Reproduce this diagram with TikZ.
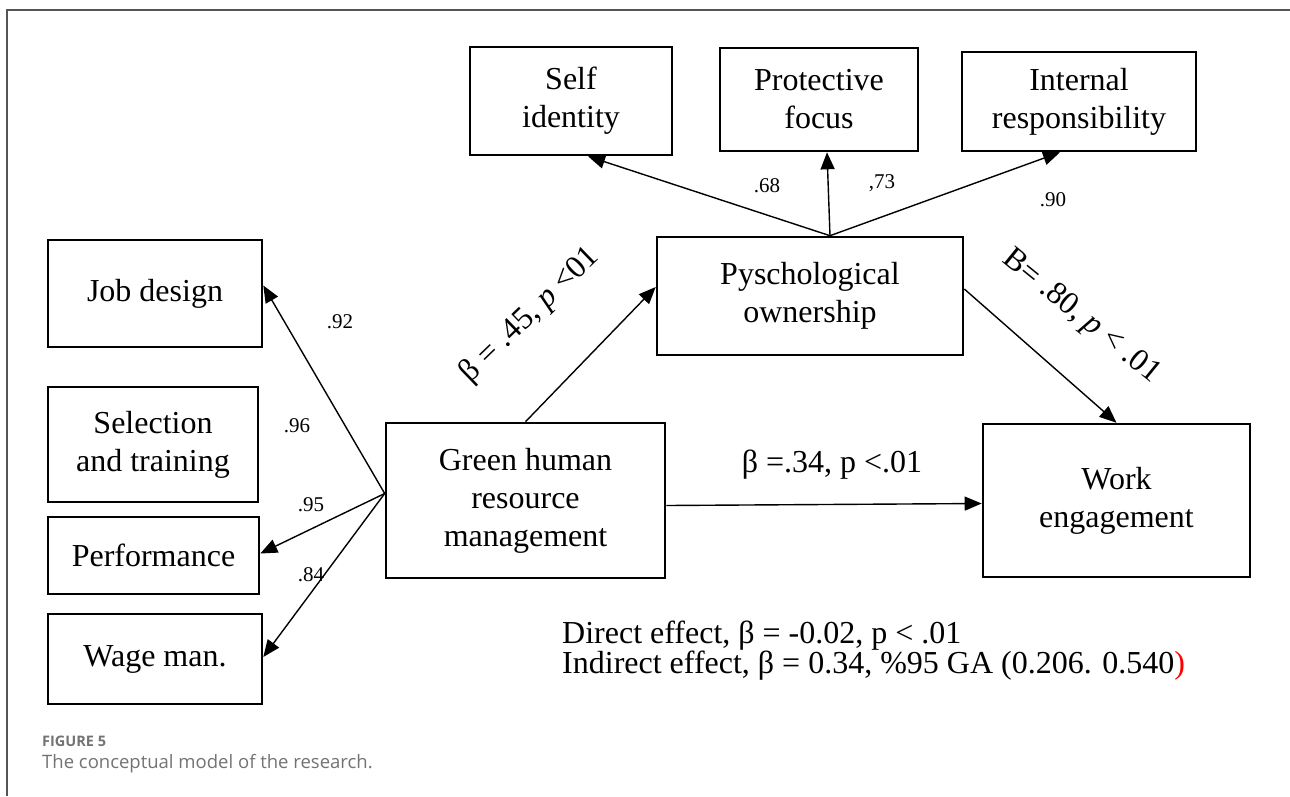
\documentclass[tikz,border=0pt]{standalone}
\usepackage{fontspec}
\setmainfont{Liberation Serif}
\newfontfamily\capfont{Open Sans}
\usetikzlibrary{arrows.meta, positioning}
\definecolor{framegray}{RGB}{85,85,85}
\definecolor{capgray}{RGB}{115,115,115}

\begin{document}
\begin{tikzpicture}[x=1pt, y=-1pt,
  varbox/.style={rectangle, draw=black, line width=2.6pt, fill=white,
                 align=center, inner sep=0pt, font=\fontsize{32}{38}\selectfont},
  coef/.style={font=\fontsize{21}{24}\selectfont, inner sep=1pt},
  pathlbl/.style={font=\fontsize{32}{38}\selectfont, inner sep=1pt},
  arr/.style={-{Triangle[length=17pt, width=14pt]}, line width=1.4pt, black}
]
\useasboundingbox (0,0) rectangle (1290,796);

% outer frame
\draw[framegray, line width=1.5pt] (7,796) -- (7,10) -- (1290,10);

% mediator and its dimensions
\node[varbox, minimum width=306pt, minimum height=118pt] (po)  at (810,296)    {Pyschological\\ownership};
\node[varbox, minimum width=202pt, minimum height=108pt] (si)  at (571,101)    {Self\\identity};
\node[varbox, minimum width=198pt, minimum height=103pt] (pfc) at (819,99.5)   {Protective\\focus};
\node[varbox, minimum width=234pt, minimum height=99pt]  (ir)  at (1079,101.5) {Internal\\responsibility};

% predictor and its dimensions
\node[varbox, minimum width=279pt, minimum height=155pt] (gh) at (525.5,500.5) {Green human\\resource\\management};
\node[varbox, minimum width=214pt, minimum height=107pt] (jd) at (155,293.5)   {Job design};
\node[varbox, minimum width=210pt, minimum height=115pt] (st) at (153,444.5)   {Selection\\and training};
\node[varbox, minimum width=211pt, minimum height=77pt]  (pf) at (153.5,555.5) {Performance};
\node[varbox, minimum width=214pt, minimum height=90pt]  (wm) at (155,659)     {Wage man.};

% outcome
\node[varbox, minimum width=267pt, minimum height=153pt] (we) at (1116.5,500.5) {Work\\engagement};

% start points
\coordinate (potop) at ([xshift=20pt]po.north);
\coordinate (ghleft) at ([yshift=7pt]gh.west);

% loadings of the mediator
\draw[arr] (potop) -- ([xshift=17pt]si.south);
\draw[arr] (potop) -- ([xshift=8pt]pfc.south);
\draw[arr] (potop) -- ([xshift=-19pt]ir.south);
\node[coef] (l68) at (767,186)  {.68};
\node[coef] (l73) at (882,183)  {,73};
\node[coef] (l90) at (1053,200) {.90};

% loadings of the predictor
\draw[arr] (ghleft) -- ([yshift=8pt]jd.east);
\draw[arr] (ghleft) -- ([yshift=2pt]pf.east);
\draw[arr] (ghleft) -- ([yshift=2pt]wm.east);
\node[coef] (l92) at (340,322) {.92};
\node[coef] (l96) at (297,426) {.96};
\node[coef] (l95) at (311,505) {.95};
\node[coef] (l84) at (311,575) {.84};

% structural paths
\draw[arr] (gh.north) -- ([yshift=9pt]po.west);
\draw[arr] ([yshift=7pt]po.east) -- (we.north);
\draw[arr] ([yshift=-5pt]gh.east) -- ([yshift=-3pt]we.west);
\node[pathlbl, rotate=44]  (pa) at (530,315)  {β = .45, \textit{p} <01};
\node[pathlbl, rotate=-39] (pb) at (1081,317) {B= .80, \textit{p} < .01};
\node[pathlbl] (pc) at (832,465) {β =.34, p <.01};

% effects
\node[pathlbl, align=left, anchor=west, font=\fontsize{32}{30}\selectfont] (fx) at (561,651)
  {Direct effect, β = -0.02, p < .01\\Indirect effect, β = 0.34, \%95 GA (0.206. 0.540\textcolor{red}{)}};

% caption
\node[anchor=west, inner sep=0pt, text=capgray, font=\capfont\bfseries\fontsize{14.5}{18}\selectfont] (fig) at (42,741) {FIGURE 5};
\node[anchor=west, inner sep=0pt, text=capgray, font=\capfont\fontsize{18.5}{22}\selectfont] (cap) at (42,764) {The conceptual model of the research.};

\end{tikzpicture}
\end{document}
